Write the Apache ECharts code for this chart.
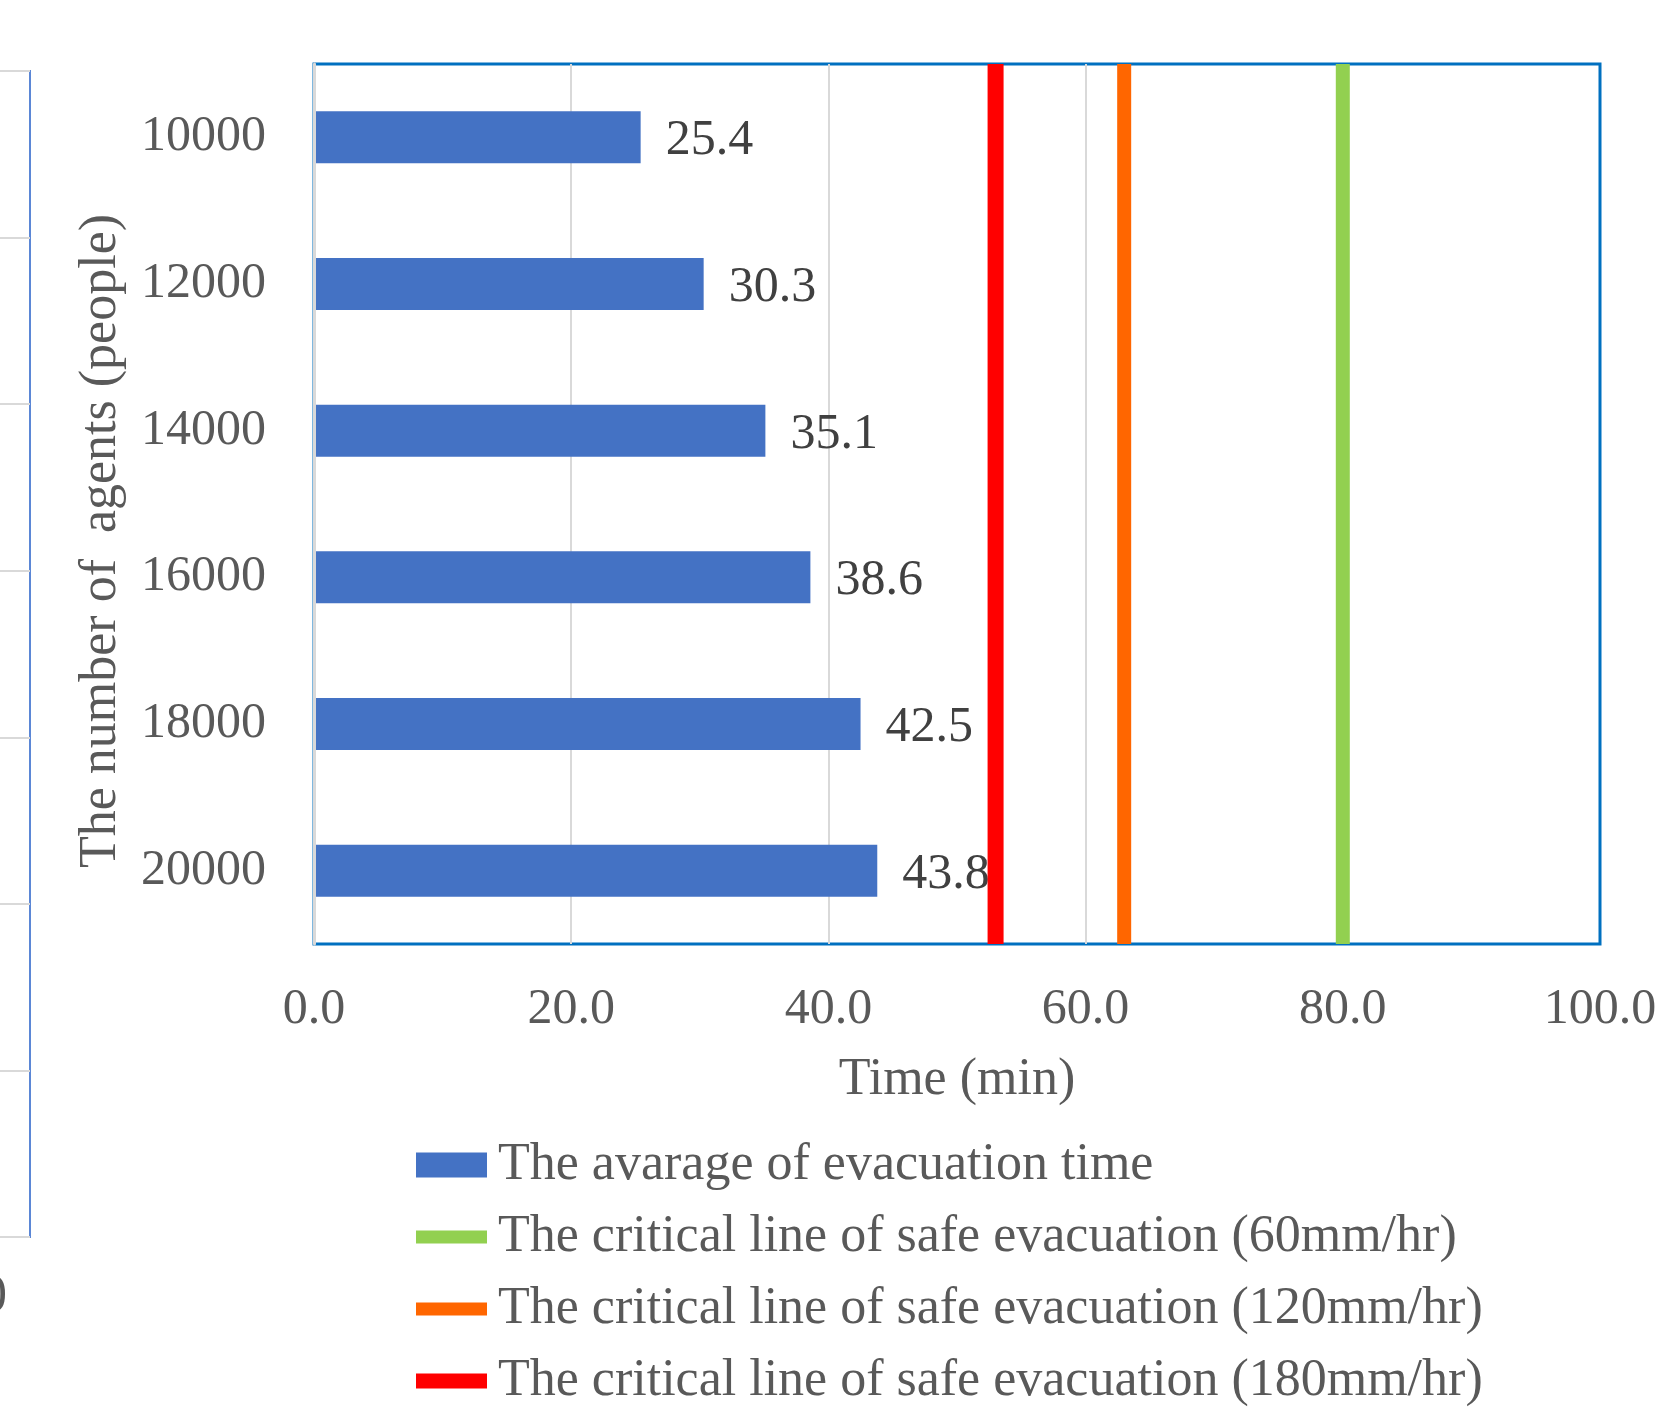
<!DOCTYPE html>
<html>
<head>
<meta charset="utf-8">
<script src="https://cdn.jsdelivr.net/npm/echarts@6/dist/echarts.min.js"></script>
<style>
  html, body { margin: 0; padding: 0; background: #ffffff; }
  #chart { width: 1664px; height: 1421px; }
</style>
</head>
<body>
<div id="chart"></div>
<script>
// Number of agents (categories, top to bottom)
const agentCounts = ['10000', '12000', '14000', '16000', '18000', '20000'];
// Average evacuation time per agent count (min)
const avgEvacTime = [25.4, 30.3, 35.1, 38.6, 42.5, 43.8];
// Critical lines of safe evacuation (min), by rainfall intensity
const criticalLabels = ['60mm/hr', '120mm/hr', '180mm/hr'];
const criticalTimes = [80, 63, 53];
const criticalColors = ['#92D050', '#FF6600', '#FF0000'];
const criticalWidths = [14, 14, 16];
// Time axis range and step
const timeMin = 0, timeMax = 100, timeStep = 20;

const FONT = "'Liberation Serif', 'Times New Roman', serif";
const TEXT_GREY = '#595959';
const barName = 'The avarage of evacuation time';
const criticalNames = criticalLabels.map(l => 'The critical line of safe evacuation (' + l + ')');

const chart = echarts.init(document.getElementById('chart'), null, { renderer: 'canvas' });

const criticalSeries = criticalTimes.map((t, i) => ({
  name: criticalNames[i],
  type: 'line',
  xAxisIndex: 0,
  yAxisIndex: 1,
  data: [[t, 0], [t, 1]],
  symbol: 'none',
  silent: true,
  z: 5,
  lineStyle: { color: criticalColors[i], width: criticalWidths[i], cap: 'butt' },
  itemStyle: { color: criticalColors[i] }
}));

const option = {
  backgroundColor: '#ffffff',
  animation: false,
  textStyle: { fontFamily: FONT },
  grid: [
    { // main plot
      left: 314, top: 64, width: 1286, height: 880,
      outerBoundsMode: 'none',
      show: true, borderColor: '#0070C0', borderWidth: 3, backgroundColor: 'transparent'
    },
    { // neighbouring panel, cut by the left edge
      left: -300, top: 71, width: 330, height: 1166,
      outerBoundsMode: 'none',
      show: true, borderColor: '#5B87D6', borderWidth: 2, backgroundColor: 'transparent'
    }
  ],
  xAxis: [
    {
      gridIndex: 0,
      type: 'value',
      min: timeMin, max: timeMax, interval: timeStep,
      axisLine: { show: false },
      axisTick: { show: false },
      splitLine: { show: true, showMaxLine: false, lineStyle: { color: '#D9D9D9', width: 2 } },
      axisLabel: {
        formatter: v => v.toFixed(1),
        fontSize: 50, color: TEXT_GREY, fontFamily: FONT, margin: 41
      },
      name: 'Time (min)',
      nameLocation: 'middle',
      nameGap: 110,
      nameTextStyle: { fontSize: 52, color: TEXT_GREY, fontFamily: FONT }
    },
    {
      gridIndex: 1, type: 'value', min: 0, max: 1, show: false
    }
  ],
  yAxis: [
    {
      gridIndex: 0,
      type: 'category',
      data: agentCounts,
      inverse: true,
      z: 3,
      axisLine: { show: true, lineStyle: { color: '#D9D9D9', width: 3 } },
      axisTick: { show: false },
      splitLine: { show: false },
      axisLabel: { fontSize: 50, color: TEXT_GREY, fontFamily: FONT, margin: 48 },
      name: 'The number of  agents (people)',
      nameLocation: 'middle',
      nameGap: 187,
      nameTextStyle: { fontSize: 52, color: TEXT_GREY, fontFamily: FONT, padding: [0, 74, 0, 0] }
    },
    {
      gridIndex: 0, type: 'value', min: 0, max: 1, show: false
    },
    {
      gridIndex: 1,
      type: 'value',
      min: 0, max: 7, interval: 1,
      axisLine: { show: false },
      axisTick: { show: false },
      axisLabel: { show: false },
      splitLine: { show: true, lineStyle: { color: '#D9D9D9', width: 2 } }
    }
  ],
  legend: {
    orient: 'vertical',
    left: 416,
    top: 1139,
    padding: 0,
    itemWidth: 71,
    itemHeight: 25,
    itemGap: 20,
    symbolKeepAspect: true,
    selectedMode: false,
    itemStyle: { borderWidth: 0 },
    textStyle: { fontSize: 52, lineHeight: 52, color: TEXT_GREY, fontFamily: FONT, padding: [0, 0, 0, 6] },
    data: [
      { name: barName, icon: 'rect' },
      { name: criticalNames[0], icon: 'path://M0 0H71V13H0Z' },
      { name: criticalNames[1], icon: 'path://M0 0H71V13H0Z' },
      { name: criticalNames[2], icon: 'path://M0 0H71V15H0Z' }
    ]
  },
  graphic: [
    { // tail of a tick label from the neighbouring panel
      type: 'text',
      x: 7, y: 1297,
      style: { text: '0', font: "52px " + FONT, fill: TEXT_GREY, align: 'right', verticalAlign: 'middle' }
    }
  ],
  series: [
    {
      name: barName,
      type: 'bar',
      xAxisIndex: 0,
      yAxisIndex: 0,
      data: avgEvacTime,
      barWidth: 52,
      itemStyle: { color: '#4472C4' },
      label: {
        show: true,
        position: 'right',
        distance: 25,
        offset: [0, 4],
        formatter: p => p.value.toFixed(1),
        fontSize: 50,
        color: '#404040',
        fontFamily: FONT
      },
      z: 2
    },
    ...criticalSeries
  ]
};

chart.setOption(option);
</script>
</body>
</html>
